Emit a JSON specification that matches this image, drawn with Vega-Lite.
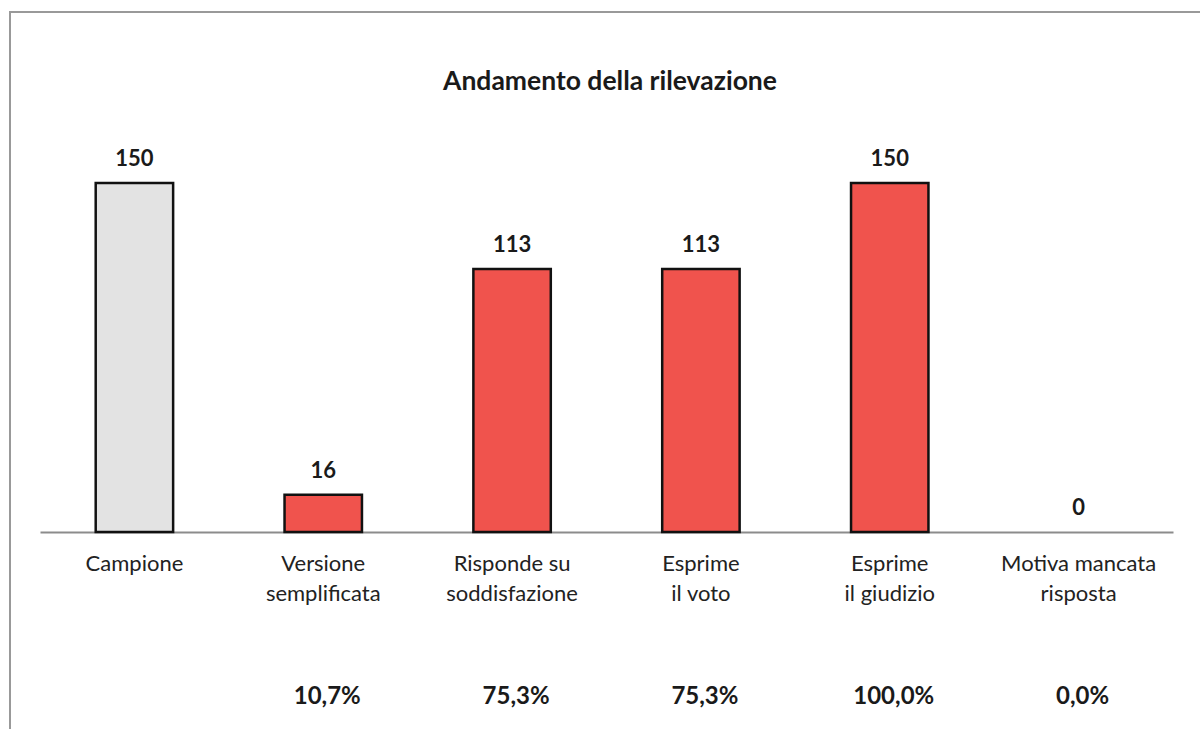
{
  "$schema": "https://vega.github.io/schema/vega-lite/v6.json",
  "width": 1200,
  "height": 730,
  "autosize": {"type": "none"},
  "padding": {"left": 10, "top": 12, "right": 0, "bottom": 0},
  "background": "white",
  "config": {
    "view": {"stroke": "#999999", "strokeWidth": 2},
    "font": "Lato"
  },
  "data": {
    "values": [
      {"cat": "Campione", "value": 150, "pct": "", "kind": "base"},
      {"cat": "Versione\nsemplificata", "value": 16, "pct": "10,7%", "kind": "sub"},
      {"cat": "Risponde su\nsoddisfazione", "value": 113, "pct": "75,3%", "kind": "sub"},
      {"cat": "Esprime\nil voto", "value": 113, "pct": "75,3%", "kind": "sub"},
      {"cat": "Esprime\nil giudizio", "value": 150, "pct": "100,0%", "kind": "sub"},
      {"cat": "Motiva mancata\nrisposta", "value": 0, "pct": "0,0%", "kind": "sub"}
    ]
  },
  "encoding": {
    "x": {
      "field": "cat",
      "type": "nominal",
      "sort": null,
      "scale": {"range": [30, 1163], "paddingInner": 0.59, "paddingOuter": 0.295},
      "axis": {
        "title": null,
        "orient": "bottom",
        "offset": -210,
        "ticks": false,
        "domainColor": "#8C8C8C",
        "domainWidth": 2,
        "labelAngle": 0,
        "labelFont": "Lato",
        "labelFontSize": 22,
        "labelColor": "#222222",
        "labelPadding": 21,
        "labelLineHeight": 30,
        "labelBaseline": "top",
        "labelExpr": "split(datum.label, '\\n')"
      }
    }
  },
  "layer": [
    {
      "transform": [{"filter": "datum.value > 0"}],
      "mark": {"type": "bar", "stroke": "#111111", "strokeWidth": 2.5},
      "encoding": {
        "y": {
          "field": "value",
          "type": "quantitative",
          "scale": {"domain": [-90.26, 223.5], "nice": false, "zero": false},
          "axis": null
        },
        "fill": {
          "field": "kind",
          "type": "nominal",
          "scale": {"domain": ["base", "sub"], "range": ["#E3E3E3", "#F0534D"]},
          "legend": null
        }
      }
    },
    {
      "mark": {"type": "text", "font": "Lato", "fontSize": 22, "fontWeight": "bold", "color": "#1a1a1a", "baseline": "alphabetic", "dy": -17},
      "encoding": {
        "y": {"field": "value", "type": "quantitative"},
        "text": {"field": "value", "type": "quantitative"}
      }
    },
    {
      "mark": {"type": "text", "font": "Lato", "fontSize": 24, "fontWeight": "bold", "color": "#1a1a1a", "baseline": "middle", "dx": 4},
      "encoding": {
        "y": {"datum": -70.9, "type": "quantitative"},
        "text": {"field": "pct", "type": "nominal"}
      }
    },
    {
      "data": {"values": [{"title": "Andamento della rilevazione"}]},
      "mark": {"type": "text", "font": "Lato", "fontSize": 26.5, "fontWeight": "bold", "color": "#1a1a1a", "baseline": "middle"},
      "encoding": {
        "x": null,
        "y": {"datum": 193.4, "type": "quantitative"},
        "text": {"field": "title", "type": "nominal"}
      }
    }
  ]
}
